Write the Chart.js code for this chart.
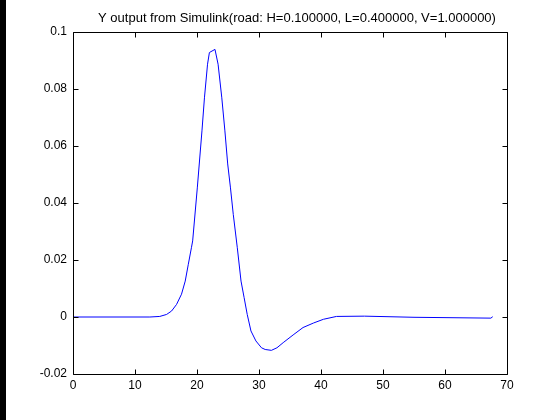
<!DOCTYPE html>
<html>
<head>
<meta charset="utf-8">
<script src="https://cdn.jsdelivr.net/npm/chart.js@4"></script>
<style>
  body { margin: 0; background: #fff; }
  #strip { position: absolute; left: 0; top: 0; width: 6px; height: 420px; background: #000; }
  #chart { position: absolute; left: 0; top: 0; }
</style>
</head>
<body>
<div id="strip"></div>
<canvas id="chart" width="560" height="420"></canvas>
<script>
const titleText = "Y output from Simulink(road: H=0.100000, L=0.400000, V=1.000000)";

// time axis (x) and simulated output (y)
const timeValues = [0, 12.4, 14.0, 15.1, 15.9, 16.7, 17.5, 18.1, 18.6, 19.1, 19.3, 20.05, 20.8, 21.2, 21.7, 22.0, 22.9, 23.4, 24.0, 24.5, 24.95, 25.4, 25.85, 26.5, 27.1, 27.6, 28.1, 28.7, 29.5, 30.4, 31.0, 32.0, 32.9, 33.9, 35.5, 37.1, 38.8, 40.4, 42.5, 47.0, 55.0, 67.4, 67.7];
const yOutput = [0, 0, 0.0002, 0.0009, 0.0021, 0.0044, 0.0080, 0.0126, 0.0185, 0.0243, 0.0267, 0.0453, 0.0653, 0.0769, 0.0887, 0.0928, 0.0939, 0.0887, 0.0769, 0.0653, 0.0537, 0.0453, 0.0360, 0.0243, 0.0126, 0.0068, 0.0009, -0.0049, -0.0084, -0.0108, -0.0114, -0.0117, -0.0108, -0.0090, -0.0063, -0.0037, -0.0021, -0.0008, 0.0002, 0.0003, -0.0001, -0.0004, 0.0001];

const xTicks = [0, 10, 20, 30, 40, 50, 60, 70];
const yTicks = [-0.02, 0, 0.02, 0.04, 0.06, 0.08, 0.1];

const points = timeValues.map((t, i) => ({ x: t, y: yOutput[i] }));

// matlab style box with inward ticks on all four sides, plus the title
const boxPlugin = {
  id: 'matlabBox',
  afterDraw(chart) {
    const ctx = chart.ctx;
    const a = chart.chartArea;
    const xs = chart.scales.x, ys = chart.scales.y;
    const L = 5;
    ctx.save();
    ctx.strokeStyle = '#000';
    ctx.lineWidth = 1;
    ctx.beginPath();
    const l = Math.round(a.left) + 0.5, r = Math.round(a.right) + 0.5;
    const t = Math.round(a.top) + 0.5, b = Math.round(a.bottom) + 0.5;
    ctx.rect(l, t, r - l, b - t);
    xTicks.forEach(v => {
      const px = Math.round(xs.getPixelForValue(v)) + 0.5;
      ctx.moveTo(px, b); ctx.lineTo(px, b - L);
      ctx.moveTo(px, t); ctx.lineTo(px, t + L);
    });
    yTicks.forEach(v => {
      const py = Math.round(ys.getPixelForValue(v)) + 0.5;
      ctx.moveTo(l, py); ctx.lineTo(l + L, py);
      ctx.moveTo(r, py); ctx.lineTo(r - L, py);
    });
    ctx.stroke();

    ctx.fillStyle = '#000';
    ctx.font = '13px "Liberation Sans", Arial, sans-serif';
    ctx.textAlign = 'center';
    ctx.textBaseline = 'alphabetic';
    ctx.fillText(titleText, (a.left + a.right) / 2 + 7, 22);
    ctx.restore();
  }
};

const tickFont = { family: 'Liberation Sans, Arial, sans-serif', size: 12 };

new Chart(document.getElementById('chart'), {
  type: 'line',
  data: {
    datasets: [{
      data: points,
      borderColor: '#0000ff',
      borderWidth: 1,
      pointRadius: 0,
      tension: 0,
      fill: false
    }]
  },
  options: {
    responsive: false,
    devicePixelRatio: 1,
    animation: false,
    layout: { padding: { left: 0, right: 53, top: 32, bottom: 0 } },
    plugins: {
      legend: { display: false },
      tooltip: { enabled: false },
      title: { display: false }
    },
    scales: {
      x: {
        type: 'linear',
        min: 0, max: 70,
        afterBuildTicks: s => { s.ticks = xTicks.map(v => ({ value: v })); },
        afterFit: s => { s.height = 46; },
        grid: { display: false, drawTicks: false },
        border: { display: false },
        ticks: { color: '#000', font: tickFont, padding: 4, maxRotation: 0 }
      },
      y: {
        min: -0.02, max: 0.1,
        afterBuildTicks: s => { s.ticks = yTicks.map(v => ({ value: v })); },
        afterFit: s => { s.width = 73; },
        grid: { display: false, drawTicks: false },
        border: { display: false },
        ticks: { color: '#000', font: tickFont, padding: 6, callback: v => String(+v.toFixed(2)) }
      }
    }
  },
  plugins: [boxPlugin]
});
</script>
</body>
</html>
